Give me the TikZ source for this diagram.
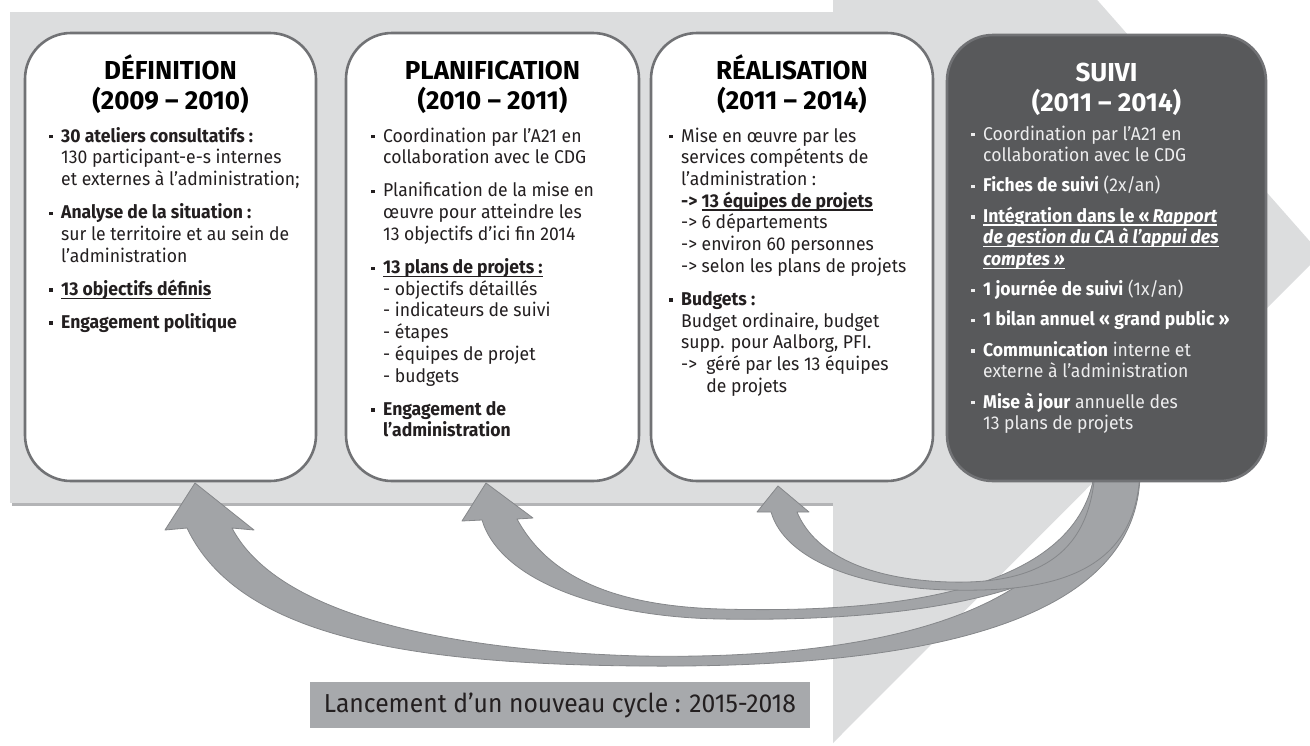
\documentclass[tikz,border=0pt]{standalone}
\usepackage{fontspec}
\setmainfont{Fira Sans}[FakeStretch=0.95]
\newfontfamily\titlefont{Fira Sans}[FakeStretch=1.0]
\newfontfamily\regfont{Fira Sans}[FakeStretch=0.95]
\definecolor{bandgrey}{HTML}{DCDDDE}
\definecolor{bandshadow}{HTML}{B3B4B6}
\definecolor{boxedge}{HTML}{717275}
\definecolor{darkbox}{HTML}{58595B}
\definecolor{arrowfill}{HTML}{A2A4A7}
\definecolor{arrowedge}{HTML}{85878A}
\definecolor{launchfill}{HTML}{A7A9AC}
\definecolor{ink}{HTML}{231F20}
\definecolor{paleink}{HTML}{EDEDEE}
\newcommand{\bul}{\makebox[12pt][l]{\rule[3.6pt]{3.4pt}{3.4pt}}}
\newcommand{\ind}{\hspace*{12pt}}
\newcommand{\bodyfont}{\fontsize{18.5}{21.7}\selectfont}
\newsavebox{\ulbox}
\newcommand{\myul}[1]{\sbox{\ulbox}{#1}\rlap{\rule[-3.4pt]{\wd\ulbox}{1.1pt}}\usebox{\ulbox}}
\tikzset{
  phasebox/.style={draw=boxedge, line width=2.6pt, fill=white, rounded corners=46pt, inner sep=0},
  darkphase/.style={phasebox, fill=darkbox},
  phasetitle/.style={anchor=base, inner sep=0, font=\titlefont\bfseries\fontsize{26}{30}\selectfont, text=black},
  bodytext/.style={anchor=base west, inner sep=0, text=ink},
  cyclearrow/.style={fill=arrowfill, draw=arrowedge, line width=0.8pt, line join=round},
}
\begin{document}
\begin{tikzpicture}[x=1pt,y=-1pt]
\useasboundingbox (0,0) rectangle (1310,745);
\clip (0,0) rectangle (1310,745);
% background band and chevron
\fill[bandshadow] (12,15) rectangle (837,506);
\fill[bandgrey] (10,12) rectangle (835,503);
\fill[bandgrey] (833,-300) -- (1321,254) -- (833,743) -- cycle;
% named anchor points for the arrows
\coordinate (srcL) at (1095,470);
\coordinate (srcR) at (1140,470);
% cycle arrows
\draw[cyclearrow] (195,483) -- (254,530) -- (232,528)
  .. controls (275,610) and (430,650) .. (640,656)
  .. controls (860,660) and (1075,620) .. (srcL) -- (srcR)
  .. controls (1142,640) and (870,668) .. (640,666)
  .. controls (420,664) and (240,640) .. (187,528) -- (165,530) -- cycle;
\draw[cyclearrow] (486,483) -- (533,518) -- (517,519)
  .. controls (550,580) and (620,606) .. (720,609)
  .. controls (900,614) and (1080,590) .. (srcL) -- (srcR)
  .. controls (1122,600) and (900,622) .. (720,619)
  .. controls (600,617) and (500,580) .. (482,520) -- (462,521) -- cycle;
\draw[cyclearrow] (778,486) -- (809,512) -- (797,512)
  .. controls (815,555) and (870,580) .. (950,582)
  .. controls (1030,584) and (1090,560) .. (srcL) -- (srcR)
  .. controls (1137,580) and (1040,592) .. (950,590)
  .. controls (860,588) and (785,560) .. (771,512) -- (757,512) -- cycle;
% phase boxes
\node[phasebox, minimum width=291pt, minimum height=448pt] (def) at (170.5,257) {};
\node[phasebox, minimum width=293pt, minimum height=448pt] (plan) at (492.5,257) {};
\node[phasebox, minimum width=282pt, minimum height=448pt] (real) at (792,257) {};
\node[darkphase, minimum width=319pt, minimum height=446pt] (suivi) at (1106.5,258) {};
% titles
\node[phasetitle] (deft1) at (170.5,79) {DÉFINITION};
\node[phasetitle] (deft2) at (170.5,109) {(2009 – 2010)};
\node[phasetitle] (plant1) at (492.5,79) {PLANIFICATION};
\node[phasetitle] (plant2) at (492.5,109) {(2010 – 2011)};
\node[phasetitle] (realt1) at (792,79) {RÉALISATION};
\node[phasetitle] (realt2) at (792,109) {(2011 – 2014)};
\node[phasetitle, text=white] (suivit1) at (1106.5,81) {SUIVI};
\node[phasetitle, text=white] (suivit2) at (1106.5,111) {(2011 – 2014)};
% body texts
\node[bodytext] (deftxt) at (49,142) {\parbox[t]{262pt}{\raggedright\bodyfont
\bul\textbf{30 ateliers consultatifs :}\\
\ind 130 participant-e-s internes\\
\ind et externes à l’administration;\\[11.5pt]
\bul\textbf{Analyse de la situation :}\\
\ind sur le territoire et au sein de\\
\ind l’administration\\[11.5pt]
\bul\textbf{\myul{13 objectifs définis}}\\[11.5pt]
\bul\textbf{Engagement politique}}};
\node[bodytext] (plantxt) at (371,142) {\parbox[t]{262pt}{\raggedright\bodyfont
\bul Coordination par l’A21 en\\
\ind collaboration avec le CDG\\[11.5pt]
\bul Planification de la mise en\\
\ind œuvre pour atteindre les\\
\ind 13 objectifs d’ici fin 2014\\[11.5pt]
\bul\textbf{\myul{13 plans de projets :}}\\
\ind - objectifs détaillés\\
\ind - indicateurs de suivi\\
\ind - étapes\\
\ind - équipes de projet\\
\ind - budgets\\[11.5pt]
\bul\textbf{Engagement de}\\
\ind\textbf{l’administration}}};
\node[bodytext] (realtxt) at (669,142) {\parbox[t]{255pt}{\raggedright\bodyfont
\bul Mise en œuvre par les\\
\ind services compétents de\\
\ind l’administration :\\
\ind\textbf{-> \myul{13 équipes de projets}}\\
\ind -> 6 départements\\
\ind -> environ 60 personnes\\
\ind -> selon les plans de projets\\[11.5pt]
\bul\textbf{Budgets :}\\
\ind Budget ordinaire, budget\\
\ind supp. pour Aalborg, PFI.\\
\ind ->\ \ géré par les 13 équipes\\
\ind\phantom{->\ \ }de projets}};
\node[bodytext, text=paleink] (suivitxt) at (971,140) {\parbox[t]{290pt}{\raggedright\bodyfont
\bul Coordination par l’A21 en\\
\ind collaboration avec le CDG\\[8.5pt]
\bul{\color{white}\textbf{Fiches de suivi}} (2x/an)\\[8.5pt]
\bul{\color{white}\textbf{\myul{Intégration dans le «\,\textit{Rapport}}}}\\
\ind{\color{white}\textbf{\textit{\myul{de gestion du CA à l’appui des}}}}\\
\ind{\color{white}\textbf{\textit{\myul{comptes »}}}}\\[8.5pt]
\bul{\color{white}\textbf{1 journée de suivi}} (1x/an)\\[8.5pt]
\bul{\color{white}\textbf{1 bilan annuel « grand public »}}\\[8.5pt]
\bul{\color{white}\textbf{Communication}} interne et\\
\ind externe à l’administration\\[8.5pt]
\bul{\color{white}\textbf{Mise à jour}} annuelle des\\
\ind 13 plans de projets}};
% new cycle label
\node[fill=launchfill, minimum width=500pt, minimum height=46pt, inner sep=0, text=ink,
  font=\regfont\fontsize{26}{30}\selectfont] (cycle) at (560,705) {Lancement d’un nouveau cycle : 2015-2018};
\end{tikzpicture}
\end{document}
